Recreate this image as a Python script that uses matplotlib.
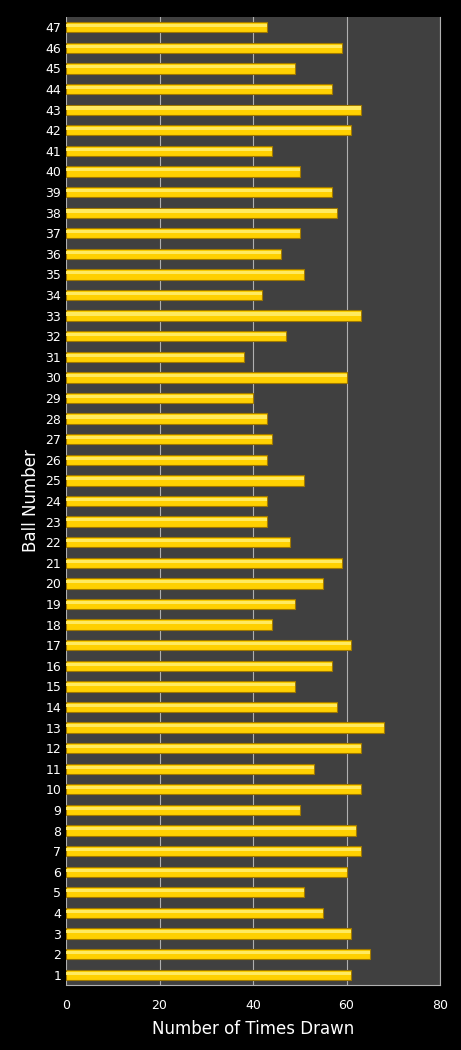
import numpy as np
import matplotlib
matplotlib.use("Agg")
import matplotlib.pyplot as plt

balls = list(range(1, 48))
draws = [61, 65, 61, 55, 51, 60, 63, 62, 50, 63,
         53, 63, 68, 58, 49, 57, 61, 44, 49, 55,
         59, 48, 43, 43, 51, 43, 44, 43, 40, 60,
         38, 47, 63, 42, 51, 46, 50, 58, 57, 50,
         44, 61, 63, 57, 49, 59, 43]
xticks = [0, 20, 40, 60, 80]

fig = plt.figure(figsize=(4.61, 10.5), dpi=100, facecolor="black")
ax = fig.add_axes([66/461, 1 - 985/1050, (440-66)/461, (985-17)/1050])
ax.set_facecolor("#404040")

ax.barh(balls, draws, height=0.5, color="#FFD000", edgecolor="#A07800", linewidth=0.8, zorder=3)
# lighter highlight stripe on top of each bar
ax.barh(np.array(balls) + 0.08, draws, height=0.15, color="#FFEA60", linewidth=0, zorder=4)

ax.set_xlim(0, 80)
ax.set_ylim(0.5, 47.5)
ax.set_xticks(xticks)
ax.set_yticks(balls)
ax.xaxis.grid(True, color="#B0B0B0", linewidth=0.8, zorder=0)
ax.tick_params(colors="white", labelsize=9, length=0)
ax.tick_params(axis="x", pad=10)
for s in ax.spines.values():
    s.set_visible(False)
ax.spines["bottom"].set_visible(True)
ax.spines["bottom"].set_color("#B0B0B0")
ax.spines["right"].set_visible(True)
ax.spines["right"].set_color("#B0B0B0")

ax.set_xlabel("Number of Times Drawn", color="white", fontsize=12, labelpad=6)
ax.set_ylabel("Ball Number", color="white", fontsize=12, labelpad=4)

fig.savefig("out.png", facecolor="black")
